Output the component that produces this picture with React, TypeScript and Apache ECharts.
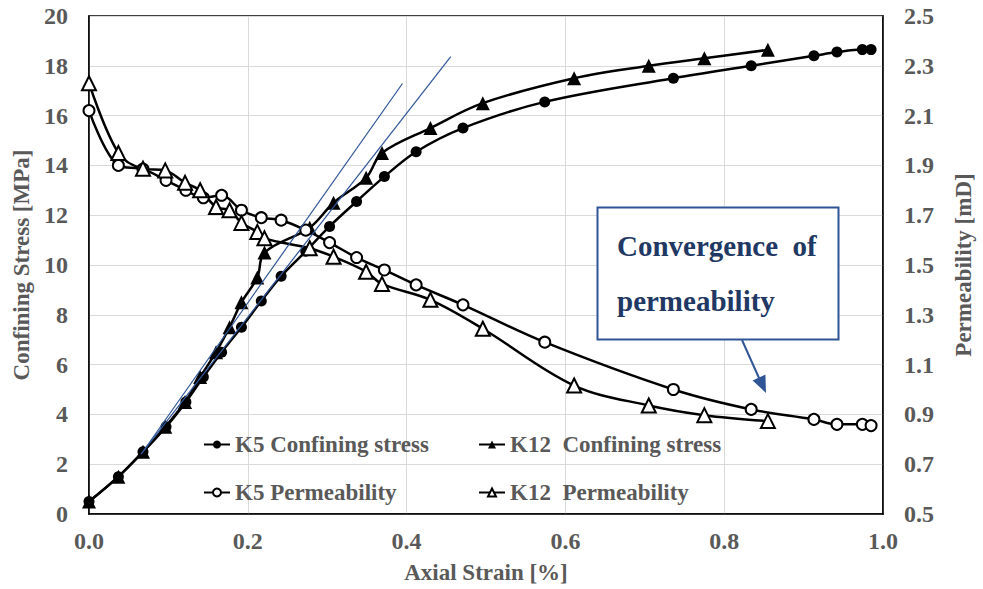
import React, { useEffect, useRef } from "react";
import * as echarts from "echarts";

// ---- data ----
const K5_STRAIN = [0, 0.037, 0.068, 0.097, 0.122, 0.144, 0.167, 0.192, 0.217, 0.242, 0.273, 0.303, 0.337, 0.372, 0.412, 0.471, 0.574, 0.736, 0.834, 0.913, 0.942, 0.974, 0.985];
const K5_STRESS = [0.5, 1.5, 2.5, 3.5, 4.5, 5.5, 6.5, 7.5, 8.55, 9.55, 10.55, 11.55, 12.55, 13.55, 14.55, 15.5, 16.55, 17.5, 18.0, 18.4, 18.55, 18.65, 18.65];
const K5_PERM = [2.12, 1.9, 1.885, 1.84, 1.8, 1.77, 1.78, 1.72, 1.69, 1.68, 1.64, 1.59, 1.53, 1.48, 1.42, 1.34, 1.19, 1.0, 0.92, 0.88, 0.86, 0.86, 0.855];

const K12_STRAIN = [0, 0.037, 0.068, 0.096, 0.121, 0.14, 0.16, 0.177, 0.192, 0.212, 0.221, 0.278, 0.308, 0.349, 0.369, 0.43, 0.496, 0.611, 0.705, 0.775, 0.855];
const K12_STRESS = [0.5, 1.5, 2.5, 3.5, 4.5, 5.5, 6.5, 7.5, 8.5, 9.5, 10.5, 11.5, 12.5, 13.5, 14.5, 15.5, 16.5, 17.5, 18.0, 18.3, 18.64];
const K12_PERM = [2.23, 1.95, 1.887, 1.88, 1.83, 1.8, 1.733, 1.72, 1.669, 1.633, 1.607, 1.567, 1.533, 1.473, 1.424, 1.36, 1.244, 1.016, 0.936, 0.897, 0.873];

// tangent (fitting) lines: [strain, stress]
const TANGENT_1 = [[0.0656, 2.4], [0.3948, 17.29]];
const TANGENT_2 = [[0.0656, 2.4], [0.4556, 18.37]];

const X_TICKS = [0, 0.2, 0.4, 0.6, 0.8, 1.0];
const STRESS_RANGE = [0, 20];
const PERM_RANGE = [0.5, 2.5];

const SERIES_NAMES = ["K5 Confining stress", "K12  Confining stress", "K5 Permeability", "K12  Permeability"];
const ANNOTATION_LINES = ["Convergence  of", "permeability"];

const FONT = '"Liberation Serif", "Times New Roman", serif';
const GRAY = "#595959";

// permeability drawn on the right axis, which shares the stress scale
const permToScale = (p: number) =>
  ((p - PERM_RANGE[0]) / (PERM_RANGE[1] - PERM_RANGE[0])) * (STRESS_RANGE[1] - STRESS_RANGE[0]) + STRESS_RANGE[0];
const scaleToPerm = (v: number) =>
  PERM_RANGE[0] + ((v - STRESS_RANGE[0]) / (STRESS_RANGE[1] - STRESS_RANGE[0])) * (PERM_RANGE[1] - PERM_RANGE[0]);

export default function App() {
  const ref = useRef<HTMLDivElement>(null);
  useEffect(() => {
    if (!ref.current) return;
    const chart = echarts.init(ref.current, undefined, { renderer: "svg" });
    const lineBase = {
      type: "line" as const,
      smooth: 0.35,
      lineStyle: { color: "#000", width: 2.5 },
      z: 3,
    };
    const legendCommon = {
      itemWidth: 26,
      itemHeight: 10,
      itemGap: 0,
      padding: 0,
      textStyle: { fontFamily: FONT, fontWeight: "bold" as const, fontSize: 23, color: GRAY },
    };
    const nameStyle = { fontFamily: FONT, fontWeight: "bold" as const, fontSize: 23, color: GRAY };
    const tickStyle = { fontFamily: FONT, fontWeight: "bold" as const, fontSize: 24, color: GRAY };
    chart.setOption({
      animation: false,
      backgroundColor: "#fff",
      grid: { left: 89, right: 94, top: 16, bottom: 74, show: true, borderColor: "#000", borderWidth: 1.5, backgroundColor: "transparent" },
      xAxis: {
        type: "value",
        min: X_TICKS[0],
        max: X_TICKS[X_TICKS.length - 1],
        interval: 0.2,
        name: "Axial Strain [%]",
        nameLocation: "middle",
        nameGap: 47,
        nameTextStyle: nameStyle,
        axisLine: { lineStyle: { color: "#000", width: 1.5 } },
        axisTick: { show: false },
        axisLabel: { ...tickStyle, margin: 15, formatter: (v: number) => v.toFixed(1) },
        splitLine: { lineStyle: { color: "#D9D9D9", width: 1 } },
      },
      yAxis: [
        {
          type: "value",
          min: STRESS_RANGE[0],
          max: STRESS_RANGE[1],
          interval: 2,
          name: "Confining Stress [MPa]",
          nameLocation: "middle",
          nameRotate: 90,
          nameGap: 55,
          nameTextStyle: nameStyle,
          axisLine: { show: true, lineStyle: { color: "#000", width: 1.5 } },
          axisTick: { show: false },
          axisLabel: { ...tickStyle, margin: 21 },
          splitLine: { lineStyle: { color: "#D9D9D9", width: 1 } },
        },
        {
          type: "value",
          position: "right",
          min: STRESS_RANGE[0],
          max: STRESS_RANGE[1],
          interval: 2,
          name: "Permeability [mD]",
          nameLocation: "middle",
          nameRotate: 90,
          nameGap: 69,
          nameTextStyle: nameStyle,
          axisLine: { show: true, lineStyle: { color: "#000", width: 1.5 } },
          axisTick: { show: false },
          axisLabel: {
            ...tickStyle, margin: 21,
            formatter: (v: number) => scaleToPerm(v).toFixed(1),
          },
          splitLine: { show: false },
        },
      ],
      legend: [
        { ...legendCommon, left: 203, top: 433, data: [SERIES_NAMES[0]] },
        { ...legendCommon, left: 478, top: 433, data: [SERIES_NAMES[1]] },
        { ...legendCommon, left: 203, top: 481, data: [SERIES_NAMES[2]] },
        { ...legendCommon, left: 478, top: 481, data: [SERIES_NAMES[3]] },
      ],
      series: [
        {
          type: "line",
          name: "tangent1",
          data: TANGENT_1,
          symbol: "none",
          lineStyle: { color: "#2F5597", width: 1.2 },
          z: 5,
          silent: true,
        },
        {
          type: "line",
          name: "tangent2",
          data: TANGENT_2,
          symbol: "none",
          lineStyle: { color: "#2F5597", width: 1.2 },
          z: 5,
          silent: true,
        },
        {
          ...lineBase,
          name: SERIES_NAMES[0],
          data: K5_STRAIN.map((x, i) => [x, K5_STRESS[i]]),
          symbol: "circle",
          symbolSize: 11,
          itemStyle: { color: "#000" },
        },
        {
          ...lineBase,
          name: SERIES_NAMES[1],
          data: K12_STRAIN.map((x, i) => [x, K12_STRESS[i]]),
          symbol: "triangle",
          symbolSize: 14,
          itemStyle: { color: "#000" },
        },
        {
          ...lineBase,
          name: SERIES_NAMES[2],
          yAxisIndex: 1,
          data: K5_STRAIN.map((x, i) => [x, permToScale(K5_PERM[i])]),
          symbol: "emptyCircle",
          symbolSize: 11,
          itemStyle: { color: "#000", borderWidth: 1.5 },
        },
        {
          ...lineBase,
          name: SERIES_NAMES[3],
          yAxisIndex: 1,
          data: K12_STRAIN.map((x, i) => [x, permToScale(K12_PERM[i])]),
          symbol: "emptyTriangle",
          symbolSize: 14,
          itemStyle: { color: "#000", borderWidth: 1.5 },
        },
      ],
      graphic: [
        {
          type: "rect",
          z: 100,
          shape: { x: 597.5, y: 207.5, width: 241, height: 132 },
          style: { fill: "#fff", stroke: "#2F5597", lineWidth: 2 },
        },
        {
          type: "text",
          z: 101,
          x: 617,
          y: 246,
          style: { text: ANNOTATION_LINES[0], font: `bold 29px ${FONT}`, fill: "#1F3864", verticalAlign: "middle", align: "left" },
        },
        {
          type: "text",
          z: 101,
          x: 617,
          y: 301,
          style: { text: ANNOTATION_LINES[1], font: `bold 29px ${FONT}`, fill: "#1F3864", verticalAlign: "middle", align: "left" },
        },
        {
          type: "line",
          z: 101,
          shape: { x1: 742, y1: 340, x2: 759, y2: 378 },
          style: { stroke: "#2F5597", lineWidth: 2 },
        },
        {
          type: "polygon",
          z: 101,
          shape: { points: [[766, 393], [752.6, 380.4], [765.4, 374.6]] },
          style: { fill: "#2F5597" },
        },
      ],
    });
    return () => chart.dispose();
  }, []);
  return <div ref={ref} style={{ position: "fixed", left: 0, top: 0, width: 983, height: 589 }} />;
}
